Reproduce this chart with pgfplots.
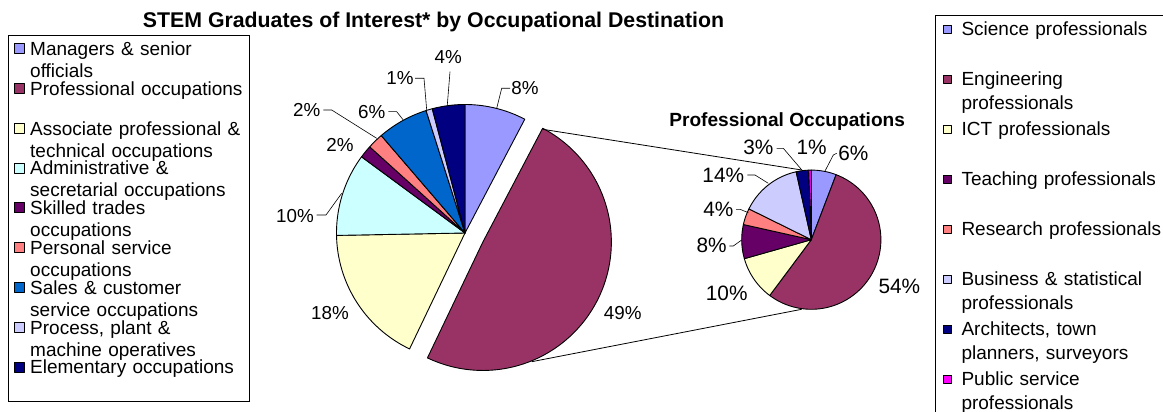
\documentclass[border=0pt]{standalone}
\usepackage{pgfplots}
\pgfplotsset{compat=1.18}
\usepackage{fontspec}
\setmainfont{Liberation Sans}
\definecolor{cA}{HTML}{9999FF}
\definecolor{cB}{HTML}{993366}
\definecolor{cC}{HTML}{FFFFCC}
\definecolor{cD}{HTML}{CCFFFF}
\definecolor{cE}{HTML}{660066}
\definecolor{cF}{HTML}{FF8080}
\definecolor{cG}{HTML}{0066CC}
\definecolor{cH}{HTML}{CCCCFF}
\definecolor{cI}{HTML}{000080}
\definecolor{cJ}{HTML}{FF00FF}
% #1 colour, #2 start (%), #3 end (%), #4 cx, #5 cy, #6 radius
\newcommand{\slice}[6]{%
  \addplot[fill=#1, draw=black, line width=0.9pt, line join=round,
    domain={90-3.6*(#3)}:{90-3.6*(#2)}, samples=90]
    ({#4+#6*cos(x)},{#5-#6*sin(x)}) -- (axis cs:#4,#5) -- cycle;
}
\pgfplotsset{
  pieaxis/.style={width=1163pt, height=412pt, scale only axis,
    xmin=0, xmax=1163, ymin=0, ymax=412, y dir=reverse,
    hide axis, clip=false, at={(0,0)}, anchor=south west},
}
\newcommand{\lblA}{\fontsize{18.8}{20}\selectfont}
\newcommand{\lblB}{\fontsize{20.8}{22}\selectfont}
\begin{document}
\begin{tikzpicture}
\useasboundingbox (0,0) rectangle (1163pt,412pt);
% ---------------- main pie ----------------
\begin{axis}[pieaxis,
  legend style={at={(axis description cs:0.006879,0.915049)}, anchor=north west,
    draw=black, line width=0.8pt, fill=white, inner xsep=1pt, inner ysep=4pt,
    column sep=6pt, row sep=0pt,
    font=\fontsize{19}{22}\selectfont,
    nodes={anchor=base west, text width=218pt, align=left,
      text height=16pt, text depth=23.8pt, inner sep=0pt}},
  legend image code/.code={\path (0pt,0pt); \draw[#1, line width=0.7pt] (4pt,1.8pt) rectangle (14pt,11.8pt);},
]
\slice{cA}{0}{7.7}{465}{233}{128.5}
\addlegendentry{\mbox{Managers \& senior}\\\mbox{officials}}
\slice{cB}{7.7}{57.1}{482.88}{241.97}{128.5}
\addlegendentry{\mbox{Professional occupations}}
\slice{cC}{57.1}{74.7}{465}{233}{128.5}
\addlegendentry{\mbox{Associate professional \&}\\\mbox{technical occupations}}
\slice{cD}{74.7}{85.1}{465}{233}{128.5}
\addlegendentry{\mbox{Administrative \&}\\\mbox{secretarial occupations}}
\slice{cE}{85.1}{86.7}{465}{233}{128.5}
\addlegendentry{\mbox{Skilled trades}\\\mbox{occupations}}
\slice{cF}{86.7}{88.7}{465}{233}{128.5}
\addlegendentry{\mbox{Personal service}\\\mbox{occupations}}
\slice{cG}{88.7}{95.1}{465}{233}{128.5}
\addlegendentry{\mbox{Sales \& customer}\\\mbox{service occupations}}
\slice{cH}{95.1}{95.9}{465}{233}{128.5}
\addlegendentry{\mbox{Process, plant \&}\\\mbox{machine operatives}}
\slice{cI}{95.9}{100}{465}{233}{128.5}
\addlegendentry{\mbox{Elementary occupations}}
% connector lines to the second pie
\addplot[black, line width=0.8pt, forget plot] coordinates {(542.7,129.3) (801.7,170)};
\addplot[black, line width=0.8pt, forget plot] coordinates {(531.7,361.7) (801.7,309.3)};
% leader lines
\addplot[black, line width=0.6pt, forget plot] coordinates {(510,88.3) (501.7,88.3) (496.7,108.3)};
\addplot[black, line width=0.6pt, forget plot] coordinates {(450,71.7) (447.3,105)};
\addplot[black, line width=0.6pt, forget plot] coordinates {(415,78.3) (424,78.3) (426.7,110)};
\addplot[black, line width=0.6pt, forget plot] coordinates {(388.3,111.7) (396.7,111.7) (403.3,120)};
\addplot[black, line width=0.6pt, forget plot] coordinates {(323.3,110) (331.7,110) (376.7,138.3)};
\addplot[black, line width=0.6pt, forget plot] coordinates {(316.7,215) (326,215) (341.7,193.3)};
% labels
\node[font=\lblA] at (axis cs:525,88.3) {8\%};
\node[font=\lblA] at (axis cs:448.3,56.7) {4\%};
\node[font=\lblA] at (axis cs:400,78.3) {1\%};
\node[font=\lblA] at (axis cs:371.7,111.7) {6\%};
\node[font=\lblA] at (axis cs:306.7,110) {2\%};
\node[font=\lblA] at (axis cs:340,145) {2\%};
\node[font=\lblA] at (axis cs:295,216) {10\%};
\node[font=\lblA] at (axis cs:330,313.3) {18\%};
\node[font=\lblA] at (axis cs:622.7,312.7) {49\%};
% title
\node[font=\fontsize{21.3}{24}\selectfont\bfseries, anchor=base] at (axis cs:433.5,27.3)
  {STEM Graduates of Interest* by Occupational Destination};
\end{axis}
% ---------------- second pie ----------------
\begin{axis}[pieaxis,
  legend style={at={(axis description cs:0.803697,0.963592)}, anchor=north west,
    draw=black, line width=0.8pt, fill=white, inner xsep=3pt, inner ysep=4pt,
    column sep=9.6pt, row sep=0pt,
    font=\fontsize{19}{23.5}\selectfont,
    nodes={anchor=base west, text width=215pt, align=left,
      text height=16.5pt, text depth=33.5pt, inner sep=0pt}},
  legend image code/.code={\path (0pt,0pt); \draw[#1, line width=0.7pt] (5pt,2.8pt) rectangle (13pt,10.8pt);},
]
\slice{cA}{0}{5.8}{811.3}{239.7}{69.6}
\addlegendentry{Science professionals}
\slice{cB}{5.8}{60.2}{811.3}{239.7}{69.6}
\addlegendentry{Engineering\\professionals}
\slice{cC}{60.2}{70.6}{811.3}{239.7}{69.6}
\addlegendentry{ICT professionals}
\slice{cE}{70.6}{78.5}{811.3}{239.7}{69.6}
\addlegendentry{Teaching professionals}
\slice{cF}{78.5}{82.3}{811.3}{239.7}{69.6}
\addlegendentry{Research professionals}
\slice{cH}{82.3}{96.5}{811.3}{239.7}{69.6}
\addlegendentry{Business \& statistical\\professionals}
\slice{cI}{96.5}{99.4}{811.3}{239.7}{69.6}
\addlegendentry{Architects, town\\planners, surveyors}
\slice{cJ}{99.4}{100}{811.3}{239.7}{69.6}
\addlegendentry{Public service\\professionals}
% leader lines
\addplot[black, line width=0.6pt, forget plot] coordinates {(776.7,148.3) (783.3,148.3) (802.7,171)};
\addplot[black, line width=0.6pt, forget plot] coordinates {(836.7,153.3) (833.3,155) (825,171)};
\addplot[black, line width=0.6pt, forget plot] coordinates {(747.3,175) (755,175) (768.3,183.3)};
\addplot[black, line width=0.6pt, forget plot] coordinates {(736,209.3) (740,209.3) (748.3,212.7)};
\addplot[black, line width=0.6pt, forget plot] coordinates {(729.3,246) (733.3,246) (741.7,240)};
% labels
\node[font=\lblB] at (axis cs:758.3,147.7) {3\%};
\node[font=\lblB] at (axis cs:811.7,147.7) {1\%};
\node[font=\lblB] at (axis cs:853.3,153.3) {6\%};
\node[font=\lblB] at (axis cs:723.3,175) {14\%};
\node[font=\lblB] at (axis cs:718.3,209.3) {4\%};
\node[font=\lblB] at (axis cs:711.7,245) {8\%};
\node[font=\lblB] at (axis cs:726.7,293.3) {10\%};
\node[font=\lblB] at (axis cs:899.3,286) {54\%};
\node[font=\fontsize{19.1}{22}\selectfont\bfseries, anchor=base] at (axis cs:787.2,126)
  {Professional Occupations};
\end{axis}
\end{tikzpicture}
\end{document}
